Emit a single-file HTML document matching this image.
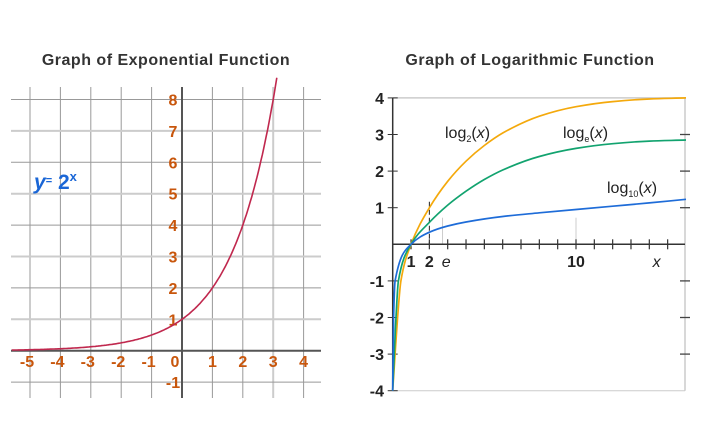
<!DOCTYPE html>
<html><head><meta charset="utf-8"><style>
body{margin:0;background:#fff;width:705px;height:417px;overflow:hidden;font-family:"Liberation Sans",sans-serif}
</style></head><body>
<svg id="s" width="705" height="417" xmlns="http://www.w3.org/2000/svg">
<text x="166" y="65" text-anchor="middle" font-size="16" font-weight="bold" fill="#333" letter-spacing="0.5">Graph of Exponential Function</text>
<text x="530" y="65" text-anchor="middle" font-size="16" font-weight="bold" fill="#333" letter-spacing="0.5">Graph of Logarithmic Function</text>
<g id="L"></g><g id="R"></g>
</svg>
<script>
const NS="http://www.w3.org/2000/svg";
function mk(p,t,a){const e=document.createElementNS(NS,t);for(const k in a)e.setAttribute(k,a[k]);p.appendChild(e);return e;}
// monotone cubic (Fritsch-Carlson) path through pixel points with increasing x
function smooth(P){const n=P.length,dx=[],m=[],t=[];
for(let i=0;i<n-1;i++){dx.push(P[i+1][0]-P[i][0]);m.push((P[i+1][1]-P[i][1])/dx[i]);}
t[0]=m[0];t[n-1]=m[n-2];
for(let i=1;i<n-1;i++){if(m[i-1]*m[i]<=0)t[i]=0;else{const w1=2*dx[i]+dx[i-1],w2=dx[i]+2*dx[i-1];t[i]=(w1+w2)/(w1/m[i-1]+w2/m[i]);}}
let d='M'+P[0][0].toFixed(1)+','+P[0][1].toFixed(1);
for(let i=0;i<n-1;i++){const h=dx[i]/3;
d+='C'+(P[i][0]+h).toFixed(1)+','+(P[i][1]+t[i]*h).toFixed(1)+' '+(P[i+1][0]-h).toFixed(1)+','+(P[i+1][1]-t[i+1]*h).toFixed(1)+' '+P[i+1][0].toFixed(1)+','+P[i+1][1].toFixed(1);}
return d;}
// Left chart data
const expXTicks=[-5,-4,-3,-2,-1,0,1,2,3,4];
const expYTicks=[-1,1,2,3,4,5,6,7,8];
const expBase=2;
const expRange=[-5.6,3.12];
const ex=x=>182+x*30.4, ey=y=>350.7-y*31.4;
const L=document.getElementById('L');
for(const x of [-5,-4,-3,-2,-1,1,2,3,4]){const l=mk(L,'line',{x1:ex(x),x2:ex(x),y1:87,y2:398,stroke:(x==-5||x==3)?'#ccc':'#999','stroke-width':(x==-5||x==3)?2:1});
}
for(const y of [-1,1,2,3,4,5,6,7,8]){const l=mk(L,'line',{x1:11,x2:321,y1:ey(y),y2:ey(y),stroke:(y%2==1)?'#ccc':'#999','stroke-width':(y%2==1)?2:1});
}
let a=mk(L,'line',{x1:11,x2:321,y1:ey(0),y2:ey(0),stroke:'#555','stroke-width':2});
a=mk(L,'line',{x1:ex(0),x2:ex(0),y1:87,y2:398,stroke:'#555','stroke-width':2});
for(const x of expXTicks){const t=mk(L,'text',{x:ex(x)-(x<0?3:x==0?7:0),y:367,'text-anchor':'middle','font-size':16,fill:'#c8560c','font-weight':'bold'});t.textContent=x;
}
for(const y of expYTicks){const t=mk(L,'text',{x:173,y:ey(y)+6,'text-anchor':'middle','font-size':16,fill:'#c8560c','font-weight':'bold'});t.textContent=y;
}
let d='';for(let i=0;i<=200;i++){const x=expRange[0]+(expRange[1]-expRange[0])*i/200;d+=(i?'L':'M')+ex(x).toFixed(1)+','+ey(Math.pow(expBase,x)).toFixed(1);}
a=mk(L,'path',{d:d,fill:'none',stroke:'#c0284e','stroke-width':1.6});
const eq=mk(L,'text',{x:34,y:189,'font-size':21,fill:'#1a66d6','font-weight':'bold'});eq.innerHTML='<tspan font-style="italic">y</tspan><tspan font-size="11" dy="-5">=</tspan><tspan dy="5"> 2</tspan><tspan font-size="13" dy="-8">x</tspan>';

// Right chart data
const log2X=[0,0.13,0.27,0.45,1,2,3,4,5,6,8,10,12,14,16];
const log2Y=[-4,-3,-2,-1,0,1.0,1.72,2.27,2.7,3.04,3.5,3.76,3.9,3.97,4];
const logeX=[0,0.09,0.18,0.31,1,2,3,4,5,6,8,10,12,14,16];
const logeY=[-4,-3,-2,-1,0,0.6,1.07,1.45,1.77,2.03,2.4,2.62,2.75,2.82,2.85];
const log10X=[0,0.02,0.05,0.13,1,2,3,4,6,8,10,12,14,16];
const log10Y=[-4,-3,-2,-1,0,0.33,0.5,0.61,0.76,0.86,0.95,1.04,1.13,1.23];
const logYTicks=[-4,-3,-2,-1,1,2,3,4];
const rx=x=>392.7+x*18.33, ry=y=>244.3-y*36.6;
const R=document.getElementById('R');
a=mk(R,'line',{x1:rx(0),x2:685,y1:ry(4),y2:ry(4),stroke:'#ccc','stroke-width':1.5});
a=mk(R,'line',{x1:685,x2:685,y1:ry(4),y2:ry(-4),stroke:'#ccc','stroke-width':1.5});
a=mk(R,'line',{x1:rx(0),x2:685,y1:ry(-4),y2:ry(-4),stroke:'#ccc','stroke-width':1});
for(const y of [3,2,1,-1,-2,-3]){a=mk(R,'line',{x1:680,x2:690,y1:ry(y),y2:ry(y),stroke:'#444','stroke-width':1.3});}
for(const x of [Math.E,10]){a=mk(R,'line',{x1:rx(x),x2:rx(x),y1:ry(1)+10,y2:ry(0),stroke:'#ccc'});}
a=mk(R,'line',{x1:rx(2),x2:rx(2),y1:ry(1)-6,y2:ry(0),stroke:'#222','stroke-dasharray':'5,3'});
for(let x=1;x<=15;x++){a=mk(R,'line',{x1:rx(x),x2:rx(x),y1:ry(0)-5,y2:ry(0)+5,stroke:'#333','stroke-width':1.2});}
a=mk(R,'line',{x1:rx(0),x2:685,y1:ry(0),y2:ry(0),stroke:'#333','stroke-width':1.5});
a=mk(R,'line',{x1:rx(0),x2:rx(0),y1:ry(4),y2:ry(-4),stroke:'#333','stroke-width':1.5});
for(const y of logYTicks){const t=mk(R,'text',{x:384,y:ry(y)+6,'text-anchor':'end','font-size':16,fill:'#222','font-weight':'bold'});t.textContent=y;

a=mk(R,'line',{x1:rx(0)-5,x2:rx(0)+5,y1:ry(y),y2:ry(y),stroke:'#333'});}
const xl=[['1',1,'','bold'],['2',2,'','bold'],['e',Math.E+0.2,'italic','normal'],['10',10,'','bold'],['x',14.4,'italic','normal']];
for(const [s,x,st,w] of xl){const t=mk(R,'text',{x:rx(x),y:267,'text-anchor':'middle','font-size':16,fill:'#222','font-style':st,'font-weight':w});t.textContent=s;
}
const series=[[log2X,log2Y,'#f4a90c','log2'],[logeX,logeY,'#12a36f','loge'],[log10X,log10Y,'#1e6cd8','log10']];
for(const [xs,ys,c,n] of series){const pts=xs.map((x,i)=>[rx(x),ry(ys[i])]);
const p=mk(R,'path',{d:smooth(pts),fill:'none',stroke:c,'stroke-width':1.7});
}
const lbl=[[445,138,'2','log2'],[563,138,'e','loge'],[607,193,'10','log10']];
for(const [x,y,s,n] of lbl){const t=mk(R,'text',{x:x,y:y,'font-size':16,fill:'#222'});t.innerHTML='log<tspan font-size="9" dy="4">'+s+'</tspan><tspan dy="-4">(</tspan><tspan font-style="italic">x</tspan>)';
}
</script>
</body></html>
